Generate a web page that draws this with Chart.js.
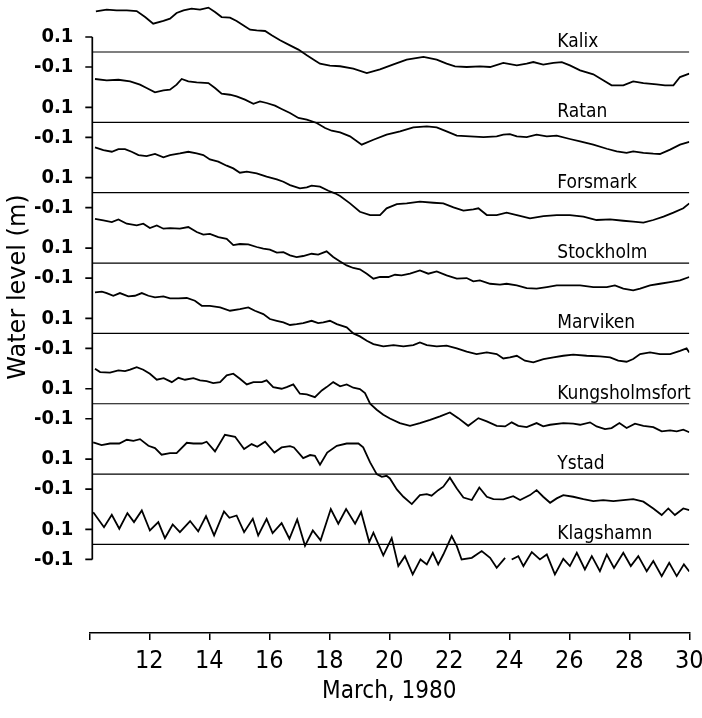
<!DOCTYPE html>
<html>
<head>
<meta charset="utf-8">
<script src="https://cdn.jsdelivr.net/npm/chart.js@4"></script>
<style>
  html, body { margin: 0; padding: 0; background: #fff; }
  #wrap { width: 702px; height: 718px; }
</style>
</head>
<body>
<div id="wrap"><canvas id="myChart" width="702" height="718"></canvas></div>
<script>
const cox = document.getElementById('myChart').getContext('2d');

// Stations, top to bottom
const stations = ['Kalix', 'Ratan', 'Forsmark', 'Stockholm', 'Marviken', 'Kungsholmsfort', 'Ystad', 'Klagshamn'];

// Water level records, [day of March, level (m)]
const kalix = [[10.22,0.271],[10.58,0.282],[10.91,0.278],[11.25,0.278],[11.58,0.273],[11.86,0.233],[12.13,0.189],[12.47,0.207],[12.69,0.222],[12.91,0.26],[13.14,0.278],[13.41,0.289],[13.69,0.282],[13.97,0.296],[14.19,0.267],[14.41,0.233],[14.69,0.229],[14.91,0.207],[15.13,0.178],[15.36,0.149],[15.58,0.144],[15.86,0.14],[16.08,0.111],[16.36,0.078],[16.69,0.044],[16.97,0.016],[17.25,-0.022],[17.52,-0.056],[17.69,-0.078],[18.02,-0.091],[18.36,-0.095],[18.8,-0.111],[19.25,-0.14],[19.69,-0.116],[20.14,-0.082],[20.58,-0.051],[21.14,-0.033],[21.58,-0.051],[21.91,-0.078],[22.19,-0.096],[22.58,-0.1],[23.02,-0.096],[23.36,-0.1],[23.8,-0.073],[24.25,-0.089],[24.58,-0.078],[24.8,-0.067],[25.13,-0.084],[25.47,-0.073],[25.75,-0.067],[26.02,-0.089],[26.36,-0.122],[26.8,-0.149],[27.13,-0.189],[27.41,-0.222],[27.8,-0.222],[28.13,-0.196],[28.47,-0.207],[28.91,-0.216],[29.19,-0.222],[29.47,-0.222],[29.69,-0.167],[30.0,-0.144]];
const ratan = [[10.19,0.289],[10.58,0.28],[10.97,0.284],[11.36,0.273],[11.69,0.251],[11.91,0.229],[12.19,0.2],[12.47,0.213],[12.69,0.218],[12.91,0.251],[13.08,0.289],[13.3,0.273],[13.58,0.267],[13.97,0.262],[14.19,0.229],[14.41,0.191],[14.69,0.184],[14.91,0.173],[15.19,0.151],[15.47,0.124],[15.69,0.14],[15.91,0.129],[16.19,0.111],[16.41,0.089],[16.69,0.062],[16.97,0.029],[17.25,0.018],[17.58,-0.004],[17.86,-0.038],[18.08,-0.056],[18.36,-0.067],[18.69,-0.093],[19.08,-0.149],[19.47,-0.116],[19.91,-0.082],[20.36,-0.06],[20.8,-0.033],[21.25,-0.027],[21.58,-0.033],[21.91,-0.06],[22.25,-0.089],[22.69,-0.093],[23.14,-0.098],[23.58,-0.093],[23.8,-0.082],[24.02,-0.078],[24.25,-0.093],[24.58,-0.098],[24.91,-0.082],[25.25,-0.093],[25.58,-0.089],[26.02,-0.111],[26.36,-0.127],[26.8,-0.149],[27.25,-0.176],[27.58,-0.193],[27.91,-0.204],[28.13,-0.193],[28.47,-0.204],[28.8,-0.209],[29.02,-0.211],[29.36,-0.182],[29.69,-0.149],[30.0,-0.13]];
const forsmark = [[10.19,0.302],[10.47,0.284],[10.75,0.273],[10.97,0.291],[11.19,0.291],[11.41,0.273],[11.64,0.251],[11.91,0.244],[12.19,0.258],[12.47,0.236],[12.69,0.251],[13.02,0.262],[13.3,0.273],[13.58,0.262],[13.8,0.251],[14.02,0.222],[14.3,0.207],[14.58,0.18],[14.8,0.162],[15.02,0.133],[15.25,0.14],[15.58,0.129],[15.91,0.107],[16.25,0.089],[16.47,0.073],[16.69,0.051],[17.02,0.029],[17.25,0.036],[17.41,0.047],[17.69,0.04],[17.97,0.013],[18.19,-0.004],[18.36,-0.022],[18.69,-0.071],[19.02,-0.127],[19.36,-0.149],[19.69,-0.149],[19.91,-0.104],[20.25,-0.076],[20.58,-0.071],[21.02,-0.06],[21.47,-0.067],[21.8,-0.071],[22.14,-0.098],[22.47,-0.12],[22.8,-0.111],[22.97,-0.104],[23.25,-0.149],[23.58,-0.149],[23.91,-0.133],[24.25,-0.149],[24.69,-0.171],[25.14,-0.156],[25.58,-0.149],[26.02,-0.149],[26.47,-0.16],[26.91,-0.182],[27.36,-0.178],[27.8,-0.187],[28.13,-0.193],[28.47,-0.2],[28.8,-0.182],[29.14,-0.16],[29.47,-0.133],[29.8,-0.104],[30.0,-0.071]];
const stockholm = [[10.19,0.295],[10.47,0.284],[10.75,0.273],[10.97,0.291],[11.25,0.262],[11.58,0.251],[11.8,0.262],[12.02,0.233],[12.25,0.251],[12.47,0.229],[12.69,0.233],[13.02,0.229],[13.3,0.24],[13.58,0.207],[13.8,0.189],[14.02,0.195],[14.3,0.173],[14.58,0.162],[14.8,0.12],[15.02,0.127],[15.3,0.124],[15.58,0.107],[15.8,0.096],[16.02,0.089],[16.25,0.069],[16.47,0.073],[16.69,0.051],[16.91,0.04],[17.13,0.047],[17.41,0.062],[17.63,0.056],[17.91,0.078],[18.13,0.04],[18.36,0.011],[18.58,-0.016],[18.8,-0.033],[19.02,-0.042],[19.25,-0.071],[19.47,-0.104],[19.69,-0.093],[19.97,-0.093],[20.19,-0.078],[20.41,-0.082],[20.69,-0.071],[21.02,-0.049],[21.3,-0.071],[21.58,-0.056],[21.91,-0.082],[22.25,-0.104],[22.58,-0.1],[22.8,-0.122],[23.02,-0.116],[23.36,-0.138],[23.69,-0.144],[23.91,-0.138],[24.25,-0.149],[24.58,-0.167],[24.91,-0.171],[25.25,-0.16],[25.58,-0.149],[26.02,-0.149],[26.36,-0.149],[26.8,-0.16],[27.25,-0.16],[27.52,-0.149],[27.8,-0.171],[28.13,-0.182],[28.36,-0.171],[28.69,-0.149],[29.02,-0.138],[29.36,-0.127],[29.69,-0.116],[30.0,-0.093]];
const marviken = [[10.19,0.273],[10.42,0.278],[10.58,0.269],[10.8,0.251],[11.02,0.269],[11.3,0.247],[11.52,0.251],[11.75,0.269],[11.97,0.251],[12.19,0.24],[12.47,0.247],[12.69,0.233],[12.97,0.233],[13.25,0.236],[13.52,0.218],[13.75,0.184],[14.02,0.184],[14.36,0.173],[14.69,0.151],[15.02,0.162],[15.3,0.173],[15.52,0.151],[15.8,0.129],[16.02,0.096],[16.25,0.084],[16.47,0.073],[16.69,0.056],[16.91,0.062],[17.13,0.069],[17.41,0.084],[17.63,0.069],[17.8,0.073],[18.02,0.084],[18.25,0.062],[18.58,0.04],[18.8,0.0],[19.02,-0.02],[19.25,-0.049],[19.47,-0.071],[19.8,-0.087],[20.14,-0.078],[20.47,-0.087],[20.8,-0.078],[21.02,-0.06],[21.25,-0.078],[21.58,-0.087],[21.91,-0.082],[22.25,-0.1],[22.58,-0.122],[22.91,-0.138],[23.25,-0.127],[23.58,-0.138],[23.8,-0.167],[24.02,-0.16],[24.25,-0.149],[24.52,-0.182],[24.8,-0.193],[25.14,-0.171],[25.47,-0.16],[25.8,-0.149],[26.13,-0.142],[26.58,-0.149],[27.02,-0.153],[27.36,-0.16],[27.63,-0.182],[27.91,-0.189],[28.13,-0.171],[28.36,-0.138],[28.69,-0.127],[29.02,-0.138],[29.36,-0.138],[29.69,-0.116],[29.91,-0.1],[30.0,-0.127]];
const kungsholmsfort = [[10.19,0.233],[10.36,0.211],[10.69,0.207],[10.97,0.222],[11.19,0.218],[11.36,0.227],[11.58,0.244],[11.8,0.227],[12.02,0.2],[12.25,0.16],[12.48,0.171],[12.75,0.144],[12.97,0.173],[13.19,0.16],[13.47,0.171],[13.69,0.156],[13.91,0.151],[14.13,0.138],[14.36,0.144],[14.58,0.189],[14.8,0.2],[15.02,0.167],[15.25,0.129],[15.47,0.144],[15.75,0.144],[15.91,0.156],[16.13,0.111],[16.41,0.1],[16.58,0.111],[16.8,0.129],[17.02,0.067],[17.25,0.062],[17.52,0.044],[17.75,0.089],[17.91,0.111],[18.13,0.144],[18.36,0.116],[18.58,0.129],[18.8,0.107],[19.02,0.098],[19.19,0.071],[19.36,0.0],[19.58,-0.04],[19.8,-0.073],[20.02,-0.098],[20.35,-0.129],[20.69,-0.147],[21.02,-0.129],[21.36,-0.107],[21.69,-0.084],[22.02,-0.058],[22.3,-0.096],[22.63,-0.147],[22.97,-0.096],[23.25,-0.118],[23.58,-0.147],[23.86,-0.151],[24.08,-0.124],[24.3,-0.147],[24.58,-0.156],[24.91,-0.129],[25.13,-0.151],[25.36,-0.14],[25.8,-0.129],[26.13,-0.133],[26.36,-0.14],[26.69,-0.124],[26.91,-0.151],[27.19,-0.169],[27.41,-0.162],[27.67,-0.129],[27.91,-0.162],[28.19,-0.133],[28.47,-0.147],[28.8,-0.156],[29.08,-0.184],[29.36,-0.178],[29.58,-0.184],[29.8,-0.173],[30.0,-0.19]];
const ystad = [[10.13,0.211],[10.41,0.193],[10.69,0.204],[11.0,0.204],[11.25,0.229],[11.47,0.222],[11.69,0.233],[11.97,0.189],[12.19,0.173],[12.41,0.129],[12.69,0.14],[12.91,0.14],[13.25,0.209],[13.47,0.204],[13.75,0.204],[13.91,0.216],[14.19,0.151],[14.52,0.262],[14.86,0.249],[15.16,0.167],[15.41,0.2],[15.6,0.182],[15.86,0.216],[16.17,0.144],[16.41,0.178],[16.69,0.187],[16.82,0.178],[17.13,0.107],[17.36,0.127],[17.52,0.122],[17.69,0.062],[17.93,0.144],[18.25,0.189],[18.58,0.204],[18.97,0.204],[19.13,0.178],[19.36,0.078],[19.58,0.0],[19.75,-0.018],[19.91,-0.011],[20.02,-0.029],[20.25,-0.102],[20.47,-0.151],[20.75,-0.2],[21.02,-0.14],[21.25,-0.133],[21.41,-0.144],[21.63,-0.107],[21.8,-0.084],[22.02,-0.024],[22.25,-0.096],[22.47,-0.156],[22.75,-0.173],[23.0,-0.089],[23.25,-0.151],[23.47,-0.167],[23.8,-0.169],[24.13,-0.147],[24.36,-0.173],[24.69,-0.14],[24.91,-0.107],[25.13,-0.151],[25.36,-0.191],[25.58,-0.162],[25.8,-0.14],[26.13,-0.151],[26.47,-0.167],[26.8,-0.18],[27.13,-0.173],[27.47,-0.18],[27.8,-0.173],[28.13,-0.167],[28.47,-0.184],[28.8,-0.229],[29.08,-0.273],[29.3,-0.229],[29.52,-0.273],[29.8,-0.229],[30.0,-0.24]];
const klagshamn = [[10.13,0.215],[10.49,0.115],[10.75,0.198],[11.0,0.105],[11.27,0.209],[11.49,0.149],[11.75,0.227],[12.02,0.093],[12.3,0.149],[12.52,0.042],[12.78,0.133],[13.02,0.082],[13.36,0.156],[13.63,0.087],[13.89,0.189],[14.16,0.06],[14.49,0.22],[14.67,0.178],[14.91,0.193],[15.16,0.082],[15.45,0.171],[15.63,0.06],[15.91,0.171],[16.11,0.076],[16.41,0.142],[16.67,0.038],[16.93,0.167],[17.19,-0.009],[17.45,0.093],[17.71,0.027],[18.05,0.236],[18.3,0.138],[18.56,0.236],[18.86,0.138],[19.06,0.216],[19.33,0.016],[19.47,0.078],[19.8,-0.073],[20.08,0.042],[20.3,-0.144],[20.52,-0.078],[20.78,-0.2],[21.04,-0.1],[21.25,-0.133],[21.45,-0.056],[21.63,-0.133],[21.8,-0.067],[22.08,0.056],[22.25,-0.011],[22.41,-0.1],[22.75,-0.089],[23.08,-0.044],[23.36,-0.089],[23.58,-0.156],[23.86,-0.089],[23.97,null],[24.08,-0.1],[24.3,-0.078],[24.47,-0.144],[24.75,-0.051],[25.02,-0.1],[25.25,-0.067],[25.52,-0.2],[25.8,-0.096],[26.02,-0.144],[26.25,-0.056],[26.52,-0.167],[26.75,-0.078],[27.02,-0.178],[27.25,-0.067],[27.49,-0.156],[27.8,-0.056],[28.05,-0.144],[28.3,-0.078],[28.58,-0.178],[28.8,-0.111],[29.08,-0.211],[29.33,-0.122],[29.58,-0.211],[29.82,-0.133],[30.0,-0.18]];

const records = [kalix, ratan, forsmark, stockholm, marviken, kungsholmsfort, ystad, klagshamn];

// Axis ticks
const dayTicks = [10, 12, 14, 16, 18, 20, 22, 24, 26, 28, 30];
const dayTickLabels = ['', '12', '14', '16', '18', '20', '22', '24', '26', '28', '30'];
const levelTicks = [0.1, -0.1];
const levelTickLabels = ['0.1', '-0.1'];

// Layout of the stacked records
const stationGap = 0.469;   // vertical spacing between stations (m)
const axisDay = 10.1;       // where the level axis stands
const lastDay = 30;
const nameDay = 25.6;       // station names start here

const NARROW = "'Liberation Sans Narrow', 'DejaVu Sans Condensed', sans-serif";
const COND = "'DejaVu Sans Condensed', 'DejaVu Sans', sans-serif";

const datasets = [];
stations.forEach((name, k) => {
    const shift = -k * stationGap;
    // zero line of the station
    datasets.push({
        label: name + ' zero',
        data: [{ x: axisDay, y: shift }, { x: lastDay, y: shift }],
        borderColor: '#000',
        borderWidth: 1.2,
        pointRadius: 0
    });
    datasets.push({
        label: name,
        data: records[k].map(([d, v]) => ({ x: d, y: v === null ? null : v + shift })),
        borderColor: '#000',
        borderWidth: 1.8,
        pointRadius: 0,
        spanGaps: false,
        tension: 0
    });
});

// Level axis line, its ticks, station names and the y title
const stackFrame = {
    id: 'stackFrame',
    afterDatasetsDraw(chart) {
        const { ctx, scales: { x, y } } = chart;
        const ax = x.getPixelForValue(axisDay);
        const top = y.getPixelForValue(levelTicks[0]);
        const bottom = y.getPixelForValue(levelTicks[1] - (stations.length - 1) * stationGap);
        ctx.save();
        ctx.strokeStyle = '#000';
        ctx.lineWidth = 1.7;
        ctx.beginPath();
        ctx.moveTo(ax, top);
        ctx.lineTo(ax, bottom);
        y.ticks.forEach(t => {
            const p = y.getPixelForValue(t.value);
            ctx.moveTo(ax - 7, p);
            ctx.lineTo(ax, p);
        });
        ctx.stroke();

        ctx.fillStyle = '#000';
        ctx.font = '19px ' + COND;
        ctx.textAlign = 'left';
        ctx.textBaseline = 'alphabetic';
        stations.forEach((name, k) => {
            ctx.fillText(name, x.getPixelForValue(nameDay), y.getPixelForValue(-k * stationGap) - 5);
        });

        ctx.translate(19, 287);
        ctx.rotate(-Math.PI / 2);
        ctx.font = "24px 'DejaVu Sans', sans-serif";
        ctx.textAlign = 'center';
        ctx.textBaseline = 'middle';
        ctx.fillText('Water level (m)', 0, 0);
        ctx.restore();
    }
};

const options = {
    responsive: false,
    animation: false,
    devicePixelRatio: 1,
    events: [],
    layout: { padding: { left: 0, right: 12.7, top: 4, bottom: 0 } },
    plugins: {
        legend: { display: false },
        tooltip: { enabled: false }
    },
    scales: {
        x: {
            type: 'linear',
            min: 10,
            max: 30,
            afterFit: s => {
                s.height = 85;
                s.paddingLeft = 0;
                s.paddingRight = 0;
            },
            afterBuildTicks: s => { s.ticks = dayTicks.map(v => ({ value: v })); },
            grid: {
                drawOnChartArea: false,
                drawTicks: true,
                tickLength: 7,
                color: '#000',
                lineWidth: 1.5
            },
            border: { color: '#000', width: 1.5 },
            ticks: {
                autoSkip: false,
                maxRotation: 0,
                padding: 6,
                color: '#000',
                font: { family: NARROW, size: 25 },
                callback: (v, i) => dayTickLabels[i]
            },
            title: {
                display: true,
                text: 'March, 1980',
                color: '#000',
                font: { family: COND, size: 24 },
                padding: { top: 0, bottom: 12 }
            }
        },
        y: {
            min: 0.32 - 629 / 150,
            max: 0.32,
            afterFit: s => {
                s.width = 89.3;
                s.paddingTop = 0;
                s.paddingBottom = 0;
            },
            afterBuildTicks: s => {
                s.ticks = stations.flatMap((name, k) => levelTicks.map(t => ({ value: t - k * stationGap })));
            },
            grid: { display: false },
            border: { display: false },
            ticks: {
                autoSkip: false,
                padding: 8,
                color: '#000',
                font: { family: NARROW, size: 20, weight: 'bold' },
                callback: (v, i) => levelTickLabels[i % levelTickLabels.length]
            }
        }
    }
};

const myChart = new Chart(cox, {
    type: 'line',
    data: { datasets: datasets },
    options: options,
    plugins: [stackFrame]
});
</script>
</body>
</html>
